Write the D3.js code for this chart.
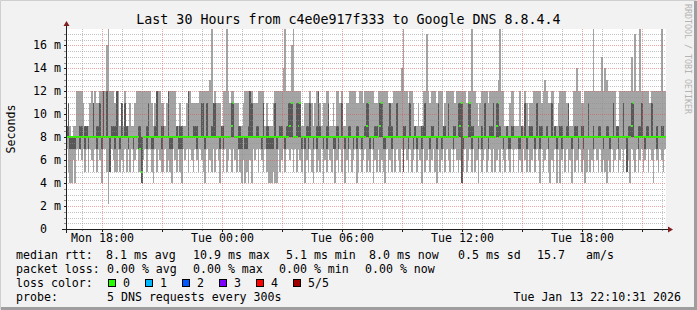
<!DOCTYPE html>
<html lang="en">
<head>
<meta charset="UTF-8">
<title>smokeping</title>
<style type="text/css">
    html, body { padding:0; margin:0; background:#f2f2f2; }
    svg { display:block; }
    text { font-family: "DejaVu Sans Mono", monospace; fill:#000; white-space:pre; }
</style>
</head>
<body>
<script src="https://d3js.org/d3.v7.min.js"></script>
<script>
    // 5 pings per 300s step, sorted low -> high (ms); ping3 is the median
    var ping1 = [
        7,5,4,4,6,4,7,6,7,6,7,5,7,5,7,6,5,7,5,7,
        6,4,7,7,5,2.2,5,7,6,5,5,7,5,6,5,7,5,7,5,7,
        5,6,7,5,5,4,6,7,5,7,7,5,4,7,5,7,6,5,5,7,
        5,6,5,4,7,6,5,7,5,4,7,6,7,5,7,6,5,7,6,5,
        7,6,5,4,7,5,6,5,7,5,7,6,4,7,5,7,5,6,7,5,
        7,6,5,7,5,4,6,4,5,4,6,4,7,6,7,5,7,6,5,7,
        5,4,4,4,5,4,4,7,5,6,7,5,7,7,6,7,5,7,5,7,
        6,5,7,4,6,5,7,5,4,7,5,6,5,7,4,6,5,7,6,5,
        7,4,6,5,7,5,7,4,6,5,7,5,6,7,4,5,7,5,6,7,
        5,6,5,7,4,6,5,7,5,6,5,4,7,5,6,5,7,5,7,6,
        5,7,5,7,6,5,7,5,6,7,5,7,6,4,7,5,6,7,5,6,
        7,5,4,7,5,6,7,5,7,6,5,7,5,7,6,5,6,4,5,7,
        5,6,7,5,7,5,6,4,7,5,6,7,5,6,7,5,7,5,6,7,
        5,7,6,5,7,6,5,7,5,7,7,5,6,5,7,6,5,7,5,6,
        7,5,7,6,4,7,5,6,7,5,4,6,5,7,4,7,4,6,7,5,
        7,5,6,4,7,5,6,5,7,5,6,4,5,7,5,6,5,7,6,5,
        7,5,6,5,4,6,5,7,5,6,7,5,6,7,5,7,5,6,4,7,
        6,5,7,5,6,7,5,6,7,5,7,6,4,7,6,5,7,6,5,7
    ];
    var ping2 = [
        8,8,7,7,7,7,8,8,7,8,8,7,8,7,8,8,8,8,7,8,
        8,7,8,8,8,8,5,8,8,7,8,8,7,8,8,8,8,7,8,8,
        7,8,8,7,7,4,8,8,7,8,8,7,7,8,8,8,8,7,8,8,
        8,8,7,7,8,8,8,7,7,7,8,8,8,8,8,8,8,8,7,8,
        8,8,8,7,8,8,8,8,8,8,8,8,7,8,7,8,8,8,8,8,
        8,8,8,7,7,7,8,7,7,8,8,8,8,8,8,8,8,7,8,8,
        7,7,7,7,7,8,7,8,8,8,8,7,8,8,8,8,8,8,8,8,
        8,7,8,7,8,7,8,8,7,8,7,8,8,8,7,8,7,8,8,8,
        7,7,8,7,8,8,8,7,8,7,8,8,7,8,7,8,8,7,8,8,
        8,8,7,8,7,8,8,8,8,8,7,7,8,8,8,7,8,8,8,8,
        8,8,5,8,8,7,8,8,7,8,7,8,8,7,8,8,8,8,7,8,
        8,8,7,8,8,7,8,8,8,8,8,8,7,8,8,8,8,4,7,8,
        8,8,8,7,8,8,8,7,8,7,8,8,8,7,8,8,8,8,8,8,
        8,8,7,8,8,7,7,8,8,8,8,7,7,8,8,8,7,8,8,8,
        8,7,8,8,7,8,8,8,8,7,8,8,8,8,7,8,8,7,8,8,
        8,8,8,7,8,8,8,7,8,8,7,8,8,8,8,8,7,8,8,8,
        8,8,7,8,8,8,7,8,8,8,8,7,8,8,8,8,5,8,8,8,
        8,8,8,7,8,8,8,7,8,8,8,8,8,8,7,8,8,8,8,8
    ];
    var ping3 = [
        8,8,8,8,8,8,8,8,8,8,8,8,8,8,8,8,8,8,8,8,
        8,8,8,8,8,8,8,8,8,8,8,8,8,8,8,8,8,8,8,8,
        8,8,8,8,7,5,8,8,8,8,8,8,8,8,8,8,8,8,8,8,
        8,8,8,8,8,8,8,8,8,8,8,8,8,8,8,8,8,8,8,8,
        8,8,8,8,8,8,8,8,8,8,8,8,8,8,8,8,8,8,8,9,
        11,8,8,8,8,8,8,8,8,8,8,8,8,8,8,8,8,8,8,8,
        8,8,8,8,8,8,8,8,8,8,8,8,8,8,9,11,8,8,8,9,
        11,8,8,8,8,8,8,8,8,8,8,8,8,8,8,8,8,8,8,8,
        8,8,8,8,8,8,8,8,8,8,8,8,8,8,8,8,8,8,8,8,
        9,11,8,8,8,8,8,8,9,11,8,8,8,8,8,8,8,8,8,8,
        8,8,8,8,8,8,8,8,8,8,8,8,8,8,8,8,8,8,8,8,
        8,8,8,8,8,8,8,8,8,8,8,8,8,8,8,8,9,11,8,8,
        8,9,11,8,8,8,8,8,8,8,8,8,8,8,8,8,8,8,9,11,
        8,8,8,8,8,8,8,8,8,8,8,8,8,8,8,8,8,8,8,8,
        8,8,8,8,8,8,8,8,8,8,8,8,8,8,8,8,8,8,8,8,
        8,8,8,8,8,8,8,8,8,8,8,8,8,8,8,8,8,8,8,8,
        8,8,8,8,8,8,8,8,8,8,8,8,8,8,8,8,8,8,8,9,
        11,8,8,8,8,8,8,8,8,8,8,8,8,8,8,8,8,8,8,8
    ];
    var ping4 = [
        9,11,8,8,8,8,8,8,9,9,8,9,9,8,8,8,11,8,9,9,
        11,8,12,8,12,8,8,9,9,9,12,8,8,11,8,11,9,8,8,8,
        8,8,8,9,9,8,8,8,9,11,8,8,8,9,12,8,8,9,9,8,
        8,12,8,8,8,8,9,8,9,9,8,8,8,12,8,8,9,9,9,8,
        8,11,11,8,11,8,8,9,11,11,8,8,8,9,9,8,8,8,8,11,
        11,8,8,9,9,8,8,8,8,9,12,11,8,8,9,9,8,8,11,8,
        9,9,8,8,8,11,8,8,9,9,8,8,9,11,11,11,8,8,11,11,
        11,8,8,8,9,9,11,8,8,8,9,12,9,8,8,8,9,11,8,8,
        8,8,9,9,8,11,8,8,8,9,9,8,8,8,9,9,8,8,8,9,
        11,11,8,8,8,9,9,8,11,11,8,8,8,9,11,9,8,8,11,8,
        8,8,9,9,8,8,11,8,8,9,8,8,8,9,9,11,8,8,8,9,
        9,8,8,11,8,8,9,9,8,11,8,8,9,9,8,11,11,11,8,8,
        8,11,11,9,9,8,8,8,8,9,8,11,8,8,9,9,11,8,11,11,
        9,8,8,8,9,8,8,9,9,8,8,8,8,9,8,11,8,8,9,9,
        8,8,11,8,9,9,8,8,9,8,8,11,8,9,8,8,9,9,8,8,
        9,11,8,8,8,9,9,8,8,9,9,8,8,11,8,8,9,8,8,9,
        9,8,8,8,9,9,8,8,11,8,9,9,8,8,11,8,8,9,9,11,
        11,8,8,9,9,11,8,8,9,9,8,11,8,8,9,8,8,9,9,8
    ];
    var ping5 = [
        9,11,9,8,9,9,12,12,12,12,11,9,9,9,11,12,11,12,11,11,
        12,12,12,12,16,18,12,12,12,11,12,12,9,11,9,12,9,9,11,9,
        9,11,12,12,12,12,12,12,12,12,12,11,9,11,12,12,12,11,11,9,
        11,12,12,12,12,12,9,9,11,9,9,9,11,12,12,11,11,11,11,11,
        12,12,12,12,12,12,13,18,11,12,11,11,11,9,12,12,18,12,11,12,
        12,11,11,11,9,9,11,12,12,12,12,12,11,11,11,12,12,12,12,9,
        11,9,9,9,11,12,12,12,12,12,14,18,12,12,12,16,18,12,12,12,
        12,9,9,11,11,11,12,11,9,11,12,12,11,9,11,11,12,12,9,9,
        11,9,12,12,11,12,9,9,11,11,12,12,12,12,11,11,12,12,11,12,
        12,12,12,12,12,11,11,12,12,12,12,12,12,11,11,11,12,12,12,12,
        12,14,18,12,12,11,12,12,11,9,9,11,9,9,12,12,17,12,11,12,
        12,12,11,12,12,12,9,11,12,12,12,12,12,11,12,12,12,12,12,12,
        11,12,12,18,12,12,11,9,11,12,12,12,12,11,12,12,12,12,12,13,
        18,12,12,9,9,9,11,12,12,9,9,9,12,9,9,12,11,9,11,11,
        12,12,12,12,12,11,12,13,12,11,11,12,12,9,9,11,12,12,12,12,
        11,11,9,9,12,12,14,12,12,11,11,12,12,12,12,12,18,12,12,12,
        12,15,12,14,13,12,12,12,12,12,9,9,12,12,12,12,12,12,12,15,
        12,17,12,12,18,12,12,12,12,12,11,12,12,12,12,12,12,18,12,12
    ];

    var yTicks = [0, 2, 4, 6, 8, 10, 12, 14, 16];
    var lossLabels = ['0', '1', '2', '3', '4', '5/5'];
    var lossColors = ['#26ff00', '#00b8ff', '#0059ff', '#7e00ff', '#ff0000', '#a10000'];

    var width = 697,
        height = 310,
        x0 = 66, x1 = 666,
        yTop = 29, yBot = 229,
        step = 300 * 1000;

    var endTime = Date.UTC(2026, 0, 13, 22, 10, 31),
        startTime = endTime - 30 * 3600 * 1000;

    var svg = d3.select('body').append('svg')
                .attr('width', width)
                .attr('height', height);

    // frame
    svg.append('rect').attr('width', width).attr('height', height).attr('fill', '#f2f2f2');
    svg.append('path').attr('d', 'M0.5,' + (height - 0.5) + 'V0.5H' + (width - 0.5))
       .attr('fill', 'none').attr('stroke', '#cfcfcf').attr('stroke-width', 1);
    svg.append('path').attr('d', 'M' + (width - 1.5) + ',1V' + (height - 1.5) + 'H1')
       .attr('fill', 'none').attr('stroke', '#9e9e9e').attr('stroke-width', 3);

    var x = d3.scaleUtc().domain([startTime, endTime]).range([x0, x1]),
        y = d3.scaleLinear().domain([0, 200 / 11.48]).range([yBot, yTop]);

    svg.append('rect').attr('x', x0).attr('y', yTop)
       .attr('width', x1 - x0).attr('height', yBot - yTop).attr('fill', '#fff');

    svg.append('clipPath').attr('id', 'plot')
       .append('rect').attr('x', x0).attr('y', yTop)
       .attr('width', x1 - x0).attr('height', yBot - yTop);

    var cols = ping3.map(function(m, i) {
        var xa = Math.round(x(startTime + i * step)),
            xb = Math.round(x(startTime + (i + 1) * step));
        return { x: xa, w: xb - xa, p1: ping1[i], p2: ping2[i], m: m, p4: ping4[i], p5: ping5[i] };
    });

    var g = svg.append('g').attr('clip-path', 'url(#plot)')
               .attr('shape-rendering', 'crispEdges');

    g.selectAll('rect.smoke1').data(cols).enter().append('rect')
     .attr('class', 'smoke1')
     .attr('x', function(d) { return d.x; })
     .attr('width', function(d) { return d.w; })
     .attr('y', function(d) { return Math.round(y(d.p5)); })
     .attr('height', function(d) { return Math.round(y(d.p1)) - Math.round(y(d.p5)); })
     .attr('fill', '#a4a4a4');

    g.selectAll('rect.smoke2').data(cols.filter(function(d) { return d.p4 > d.p2; }))
     .enter().append('rect')
     .attr('class', 'smoke2')
     .attr('x', function(d) { return d.x; })
     .attr('width', function(d) { return d.w; })
     .attr('y', function(d) { return Math.round(y(d.p4)); })
     .attr('height', function(d) { return Math.round(y(d.p2)) - Math.round(y(d.p4)); })
     .attr('fill', '#585858');

    g.selectAll('rect.median').data(cols).enter().append('rect')
     .attr('class', 'median')
     .attr('x', function(d) { return d.x; })
     .attr('width', function(d) { return d.w; })
     .attr('y', function(d) { return Math.round(y(d.m)) - 1; })
     .attr('height', 2)
     .attr('fill', lossColors[0]);

    // grid
    var grid = svg.append('g').attr('fill', 'none').attr('shape-rendering', 'crispEdges');
    var minorY = d3.range(0, 17.5, 0.5).filter(function(v) { return v % 2 !== 0; });
    var hours = d3.utcHour.range(startTime, endTime);

    grid.selectAll('line.hy').data(minorY).enter().append('line')
        .attr('x1', x0).attr('x2', x1)
        .attr('y1', function(d) { return Math.round(y(d)) + 0.5; })
        .attr('y2', function(d) { return Math.round(y(d)) + 0.5; })
        .attr('stroke', 'rgba(143,143,143,0.55)').attr('stroke-dasharray', '1,1');

    grid.selectAll('line.hx').data(hours.filter(function(h) { return h.getUTCHours() % 3 !== 0; }))
        .enter().append('line')
        .attr('x1', function(d) { return Math.round(x(d)) + 0.5; })
        .attr('x2', function(d) { return Math.round(x(d)) + 0.5; })
        .attr('y1', yTop).attr('y2', yBot)
        .attr('stroke', 'rgba(143,143,143,0.55)').attr('stroke-dasharray', '1,1');

    grid.selectAll('line.my').data(yTicks.slice(1)).enter().append('line')
        .attr('x1', x0).attr('x2', x1)
        .attr('y1', function(d) { return Math.round(y(d)) + 0.5; })
        .attr('y2', function(d) { return Math.round(y(d)) + 0.5; })
        .attr('stroke', 'rgba(222,79,79,0.5)').attr('stroke-dasharray', '1,1');

    grid.selectAll('line.mx').data(hours.filter(function(h) { return h.getUTCHours() % 3 === 0; }))
        .enter().append('line')
        .attr('x1', function(d) { return Math.round(x(d)) + 0.5; })
        .attr('x2', function(d) { return Math.round(x(d)) + 0.5; })
        .attr('y1', yTop).attr('y2', yBot)
        .attr('stroke', 'rgba(222,79,79,0.5)').attr('stroke-dasharray', '1,1');

    // ticks
    grid.selectAll('line.ty').data(d3.range(0, 17.5, 0.5)).enter().append('line')
        .attr('x1', x0 - 2).attr('x2', x0)
        .attr('y1', function(d) { return Math.round(y(d)) + 0.5; })
        .attr('y2', function(d) { return Math.round(y(d)) + 0.5; })
        .attr('stroke', function(d) { return d % 2 === 0 ? '#1f1f1f' : '#8f8f8f'; });

    grid.selectAll('line.tx').data(hours).enter().append('line')
        .attr('x1', function(d) { return Math.round(x(d)) + 0.5; })
        .attr('x2', function(d) { return Math.round(x(d)) + 0.5; })
        .attr('y1', yBot).attr('y2', function(d) { return d.getUTCHours() % 3 === 0 ? yBot + 3 : yBot + 2; })
        .attr('stroke', function(d) { return d.getUTCHours() % 3 === 0 ? '#1f1f1f' : '#8f8f8f'; });

    // axes
    svg.append('line').attr('x1', x0 - 4).attr('x2', x1 + 4)
       .attr('y1', yBot + 0.5).attr('y2', yBot + 0.5)
       .attr('stroke', '#1f1f1f').attr('shape-rendering', 'crispEdges');
    svg.append('line').attr('x1', x0 + 0.5).attr('x2', x0 + 0.5)
       .attr('y1', yBot + 4).attr('y2', yTop - 4)
       .attr('stroke', '#1f1f1f').attr('shape-rendering', 'crispEdges');
    svg.append('path')
       .attr('d', 'M' + (x1 + 2) + ',' + (yBot - 2.5) + 'L' + (x1 + 7) + ',' + (yBot + 0.5) +
                  'L' + (x1 + 2) + ',' + (yBot + 3.5) + 'Z')
       .attr('fill', '#801f1f');
    svg.append('path')
       .attr('d', 'M' + (x0 - 2.5) + ',' + (yTop - 3) + 'L' + (x0 + 0.5) + ',' + (yTop - 8) +
                  'L' + (x0 + 3.5) + ',' + (yTop - 3) + 'Z')
       .attr('fill', '#801f1f');

    // labels
    svg.selectAll('text.ylab').data(yTicks).enter().append('text')
       .attr('x', 61).attr('y', function(d) { return y(d) + 4; })
       .attr('text-anchor', 'end')
       .style('font-size', '11.6px')
       .text(function(d) { return d === 0 ? '0\u00a0\u00a0' : d + ' m'; });

    var fmt = d3.utcFormat('%a %H:%M');
    svg.selectAll('text.xlab').data(hours.filter(function(h) { return h.getUTCHours() % 6 === 0; }))
       .enter().append('text')
       .attr('x', function(d) { return x(d); }).attr('y', 242)
       .attr('text-anchor', 'middle')
       .style('font-size', '11.6px')
       .text(function(d) { return fmt(d); });

    svg.append('text')
       .attr('x', width / 2).attr('y', 24)
       .attr('text-anchor', 'middle')
       .style('font-size', '13.3px')
       .text('Last 30 Hours from c4e0e917f333 to Google DNS 8.8.4.4');

    svg.append('text')
       .attr('transform', 'translate(15,' + ((yTop + yBot) / 2) + ') rotate(-90)')
       .attr('text-anchor', 'middle')
       .style('font-size', '11.6px')
       .text('Seconds');

    svg.append('text')
       .attr('transform', 'translate(685,4) rotate(90)')
       .style('font-size', '8.3px').style('fill', '#b4b4b4')
       .text('RRDTOOL / TOBI OETIKER');

    // legend
    var rows = [258.5, 272.5, 286.5, 300.5];
    var legend = [
        [16, rows[0], 'median rtt:'], [106, rows[0], '8.1 ms avg'], [193, rows[0], '10.9 ms max'],
        [286, rows[0], '5.1 ms min'], [369, rows[0], '8.0 ms now'], [458, rows[0], '0.5 ms sd'],
        [537, rows[0], '15.7'], [586, rows[0], 'am/s'],
        [16, rows[1], 'packet loss:'], [107, rows[1], '0.00 % avg'], [193, rows[1], '0.00 % max'],
        [279, rows[1], '0.00 % min'], [365, rows[1], '0.00 % now'],
        [16, rows[2], 'loss color:'],
        [16, rows[3], 'probe:'], [107, rows[3], '5 DNS requests every 300s']
    ];
    svg.selectAll('text.leg').data(legend).enter().append('text')
       .attr('x', function(d) { return d[0]; }).attr('y', function(d) { return d[1]; })
       .style('font-size', '11.6px')
       .text(function(d) { return d[2]; });

    svg.append('text').attr('x', 681).attr('y', rows[3])
       .attr('text-anchor', 'end').style('font-size', '11.6px')
       .text('Tue Jan 13 22:10:31 2026');

    var lossG = svg.selectAll('g.loss').data(lossLabels).enter().append('g')
       .attr('transform', function(d, i) { return 'translate(' + (108 + i * 37) + ',279)'; });
    lossG.append('rect').attr('x', 0.5).attr('y', 0.5).attr('width', 7).attr('height', 7)
       .attr('fill', function(d, i) { return lossColors[i]; })
       .attr('stroke', '#000').attr('shape-rendering', 'crispEdges');
    lossG.append('text').attr('x', 15).attr('y', 7.5)
       .style('font-size', '11.6px')
       .text(function(d) { return d; });
</script>
</body>
</html>
